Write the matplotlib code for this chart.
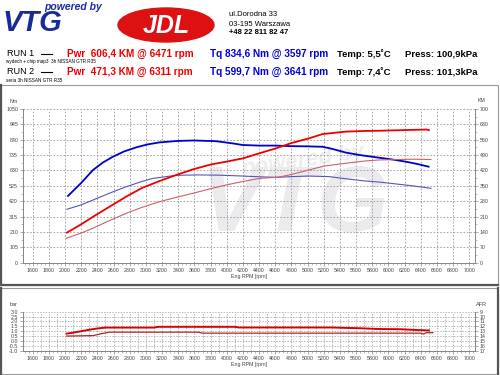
import matplotlib
matplotlib.use('Agg')
import matplotlib.pyplot as plt
import numpy as np
from matplotlib.patches import Rectangle, Ellipse

plt.rcParams['font.family'] = ['Liberation Sans', 'DejaVu Sans']

# run 1 (wydech + chip) - torque Nm and power KM
rpm1_tq = [2036, 2200, 2345, 2470, 2592, 2730, 2881, 3020, 3169, 3400, 3597, 3869, 4074,
           4198, 4400, 4610, 4800, 4981, 5186, 5300, 5475, 5650, 5887, 6050, 6216, 6350, 6496]
tq1 = [456, 545, 633, 685, 724, 760, 788, 808, 822, 832, 835, 830, 815,
       804, 800, 800, 796, 795, 792, 778, 752, 735, 717, 705, 690, 675, 656]
rpm1_pw = [2024, 2200, 2345, 2550, 2757, 2950, 3169, 3380, 3580, 3800, 3992, 4198, 4400,
           4610, 4800, 5013, 5186, 5475, 5700, 5887, 6100, 6300, 6471, 6500]
pw1 = [137, 175, 209, 255, 301, 340, 372, 400, 425, 447, 460, 475, 498,
       521, 545, 566, 586, 597, 600, 601, 603, 605, 606.4, 604]

# run 2 (seria) - torque Nm and power KM
rpm2_tq = [2024, 2200, 2345, 2550, 2757, 2950, 3086, 3375, 3641, 3900, 4198, 4400, 4610,
           4800, 5013, 5268, 5450, 5681, 5900, 6093, 6300, 6525]
tq2 = [365, 395, 428, 475, 519, 555, 576, 597, 599.7, 598, 592, 587, 583,
       588, 592, 588, 575, 560, 550, 538, 525, 508]
rpm2_pw = [2016, 2200, 2345, 2550, 2757, 2950, 3169, 3380, 3580, 3800, 3992, 4200, 4404,
           4651, 4800, 5013, 5200, 5475, 5700, 5887, 6134, 6311, 6525]
pw2 = [111, 135, 157, 192, 225, 252, 278, 298, 316, 337, 354, 370, 384,
       390, 402, 422, 440, 453, 463, 468, 470, 471.3, 470]

# lower chart - boost [bar]
rpm_b1 = [2020, 2100, 2200, 2300, 2400, 2500, 3100, 3150, 4100, 4150, 5300, 5650, 5900,
          6150, 6350, 6500]
boost1 = [0.75, 0.85, 1.0, 1.15, 1.28, 1.37, 1.37, 1.45, 1.45, 1.38, 1.38, 1.3, 1.22,
          1.2, 1.12, 1.08]
rpm_b2 = [2020, 2350, 2450, 2550, 3650, 3700, 6400, 6430, 6470, 6550]
boost2 = [0.5, 0.55, 0.75, 0.9, 0.9, 0.8, 0.8, 0.7, 0.85, 0.85]

x_ticks = list(range(1600, 7001, 200))
nm_ticks = list(range(0, 1051, 105))
km_ticks = list(range(0, 701, 70))
bar_ticks = [-1.0, -0.5, 0.0, 0.5, 1.0, 1.5, 2.0, 2.5, 3.0]
afr_ticks = list(range(9, 18))

W, H = 500, 375
fig = plt.figure(figsize=(5, 3.75), dpi=100)

def fx(px):
    return px / W

def fy(py):
    return 1 - py / H

# panel frames
fig.add_artist(Rectangle((fx(1), fy(285)), fx(497), 200 / H, transform=fig.transFigure,
                         fill=False, ec='#999999', lw=0.8))
fig.add_artist(plt.Line2D([fx(1), fx(1)], [fy(285), fy(85)], transform=fig.transFigure, color='#555555', lw=1.6))
fig.add_artist(plt.Line2D([fx(1), fx(498)], [fy(285), fy(285)], transform=fig.transFigure, color='#555555', lw=1.6))
fig.add_artist(Rectangle((fx(1), fy(374)), fx(497), 86 / H, transform=fig.transFigure,
                         fill=False, ec='#999999', lw=0.8))
fig.add_artist(plt.Line2D([fx(1), fx(1)], [fy(374), fy(288)], transform=fig.transFigure, color='#555555', lw=1.6))
fig.add_artist(plt.Line2D([fx(498), fx(498)], [fy(374), fy(288)], transform=fig.transFigure, color='#555555', lw=1.6))

# header logo
fig.text(fx(44), fy(7), 'powered by', color='#1a2a9a', fontsize=7.5, fontweight='bold',
         style='italic', va='center', ha='left')
fig.text(fx(3), fy(23), 'VTG', color='#1a2a9a', fontsize=21, fontweight='bold',
         style='italic', va='center', ha='left')
fig.add_artist(Ellipse((fx(166), fy(25)), fx(96), 34 / H, transform=fig.transFigure,
                       color='#dd1111'))
fig.text(fx(166), fy(26), 'JDL', color='white', fontsize=18, fontweight='bold',
         style='italic', va='center', ha='center')
fig.text(fx(229), fy(15), 'ul.Dorodna 33', fontsize=5.5, va='center')
fig.text(fx(229), fy(24), '03-195 Warszawa', fontsize=5.5, va='center')
fig.text(fx(229), fy(33), '+48 22 811 82 47', fontsize=5.5, va='center', fontweight='bold')

# run info rows
for y, name, sub, pwr, tq, temp, press in [
        (54, 'RUN 1', 'wydech + chip map3  3h NISSAN GTR R35', 'Pwr  606,4 KM @ 6471 rpm',
         'Tq 834,6 Nm @ 3597 rpm', 'Temp: 5,5˚C', 'Press: 100,9kPa'),
        (72, 'RUN 2', 'seria 3h NISSAN GTR R35', 'Pwr  471,3 KM @ 6311 rpm',
         'Tq 599,7 Nm @ 3641 rpm', 'Temp: 7,4˚C', 'Press: 101,3kPa')]:
    fig.text(fx(7), fy(y), name, fontsize=6.5, va='center')
    fig.add_artist(plt.Line2D([fx(41), fx(52)], [fy(y), fy(y)], transform=fig.transFigure, color='black', lw=0.8))
    fig.text(fx(6), fy(y + 8), sub, fontsize=3.3, va='center')
    fig.text(fx(67), fy(y), pwr, fontsize=7.2, va='center', color='#ee0000', fontweight='bold')
    fig.text(fx(210), fy(y), tq, fontsize=7.2, va='center', color='#0000dd', fontweight='bold')
    fig.text(fx(337), fy(y), temp, fontsize=6.8, va='center', fontweight='bold')
    fig.text(fx(405), fy(y), press, fontsize=6.8, va='center', fontweight='bold')

# main chart
ax = fig.add_axes([fx(23), fy(262.7), fx(452), (262.7 - 109) / H])
ax2 = ax.twinx()
ax.set_xlim(1480, 7070)
ax.set_ylim(0, 1050)
ax2.set_ylim(0, 700)

# watermark
ax.text(0.6, 0.36, 'VTG', transform=ax.transAxes, fontsize=66, fontweight='bold',
        style='italic', color='#ebebee', ha='center', va='center', zorder=0)
ax.text(0.62, 0.66, 'powered by', transform=ax.transAxes, fontsize=16, fontweight='bold',
        style='italic', color='#ededed', ha='center', va='center', zorder=0, rotation=8)

ax.plot(rpm2_tq, tq2, color='#5555bb', lw=0.8, zorder=3)
ax.plot(rpm1_tq, tq1, color='#0000cc', lw=1.3, zorder=4)
ax2.plot(rpm2_pw, pw2, color='#cc6070', lw=0.8)
ax2.plot(rpm1_pw, pw1, color='#ee0000', lw=1.3)

ax.set_xticks(x_ticks)
ax.set_xticks(np.arange(1500, 7051, 50), minor=True)
ax.set_yticks(nm_ticks)
ax.set_yticks(np.arange(0, 1051, 52.5), minor=True)
ax2.set_yticks(km_ticks)
ax2.set_yticks(np.arange(0, 701, 35), minor=True)
ax.grid(True, which='major', color='#999999', ls=(0, (2, 2)), lw=0.6)
ax.set_xlabel('Eng RPM [rpm]', fontsize=3.8, color='#444444', labelpad=1)
for a in (ax, ax2):
    a.spines['top'].set_visible(False)
    for s in a.spines.values():
        s.set_color('#888888')
        s.set_linewidth(0.7)
    a.tick_params(labelsize=3.8, colors='#888888', labelcolor='#444444', length=2.5, width=0.5, pad=1)
    a.tick_params(which='minor', length=1.2, width=0.4, colors='#888888')
ax.text(fx(10), fy(101.5), 'Nm', transform=fig.transFigure, fontsize=3.8, color='#444444', va='center')
ax.text(fx(478), fy(100.7), 'KM', transform=fig.transFigure, fontsize=3.8, color='#444444', va='center')

# lower chart
bx = fig.add_axes([fx(23), fy(350.7), fx(452), (350.7 - 311.7) / H])
bx2 = bx.twinx()
bx.set_xlim(1480, 7070)
bx.set_ylim(-1.0, 3.0)
bx2.set_ylim(17, 9)
bx.plot(rpm_b2, boost2, color='#b02828', lw=0.9)
bx.plot(rpm_b1, boost1, color='#ee0000', lw=1.4)
bx.plot(rpm_b1, boost1, color='#a01010', lw=0.4)
bx.set_xticks(x_ticks)
bx.set_xticks(np.arange(1500, 7051, 50), minor=True)
bx.set_yticks(bar_ticks)
bx.set_yticklabels(['%.1f' % v for v in bar_ticks])
bx2.set_yticks(afr_ticks)
for xv in range(1600, 7001, 100):
    bx.axvline(xv, color='#999999', ls=(0, (2, 2)), lw=0.5, zorder=0)
for yv in bar_ticks:
    bx.axhline(yv, color='#999999', ls=(0, (2, 2)), lw=0.5, zorder=0)
bx.set_xlabel('Eng RPM [rpm]', fontsize=3.8, color='#444444', labelpad=1)
for a in (bx, bx2):
    a.spines['top'].set_visible(False)
    for s in a.spines.values():
        s.set_color('#888888')
        s.set_linewidth(0.7)
    a.tick_params(labelsize=3.8, colors='#888888', labelcolor='#444444', length=2.5, width=0.5, pad=1)
    a.tick_params(which='minor', length=1.2, width=0.4, colors='#888888')
bx.text(fx(10), fy(304), 'bar', transform=fig.transFigure, fontsize=4, color='#444444', va='center')
bx.text(fx(476), fy(304), 'AFR', transform=fig.transFigure, fontsize=4, color='#444444', va='center')

fig.savefig('out.png', dpi=100)
